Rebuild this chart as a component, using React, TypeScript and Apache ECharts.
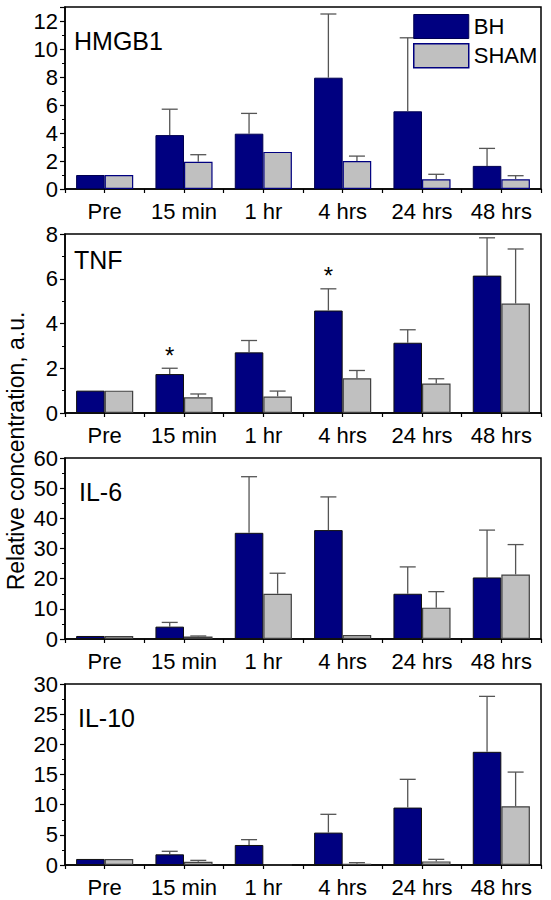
import React, { useEffect, useRef } from 'react';
import * as echarts from 'echarts';

const categories = ['Pre', '15 min', '1 hr', '4 hrs', '24 hrs', '48 hrs'];

// HMGB1
const hmgb1BH = [1.0, 3.85, 3.95, 7.95, 5.55, 1.65];
const hmgb1BHErrTop = [null, 5.7, 5.4, 12.5, 10.8, 2.9];
const hmgb1SHAM = [1.0, 1.95, 2.65, 2.0, 0.7, 0.7];
const hmgb1SHAMErrTop = [null, 2.45, null, 2.35, 1.05, 0.95];

// TNF
const tnfBH = [1.0, 1.74, 2.71, 4.58, 3.14, 6.14];
const tnfBHErrTop = [null, 2.0, 3.24, 5.55, 3.72, 7.83];
const tnfSHAM = [1.0, 0.7, 0.74, 1.55, 1.32, 4.89];
const tnfSHAMErrTop = [null, 0.85, 0.98, 1.9, 1.53, 7.33];
const tnfStars = [false, true, false, true, false, false];

// IL-6
const il6BH = [1.0, 4.1, 35.2, 36.1, 15.0, 20.4];
const il6BHErrTop = [null, 5.5, 53.8, 47.1, 23.9, 36.1];
const il6SHAM = [1.0, 0.8, 15.0, 1.3, 10.4, 21.4];
const il6SHAMErrTop = [null, 1.0, 21.8, null, 15.7, 31.3];

// IL-10
const il10BH = [1.0, 1.77, 3.32, 5.37, 9.52, 18.76];
const il10BHErrTop = [null, 2.27, 4.2, 8.4, 14.2, 27.95];
const il10SHAM = [1.0, 0.55, 0, 0.22, 0.6, 9.74];
const il10SHAMErrTop = [null, 0.77, null, 0.39, 0.94, 15.4];

const panelNames = ['HMGB1', 'TNF', 'IL-6', 'IL-10'];
const yMax = [13, 8, 60, 30];
const yInterval = [2, 2, 10, 5];
const seriesName = ['BH', 'SHAM'];
const yTitle = 'Relative concentration, a.u.';

const panelData = [
  { bh: hmgb1BH, bhErr: hmgb1BHErrTop, sham: hmgb1SHAM, shamErr: hmgb1SHAMErrTop, stars: [] as boolean[] },
  { bh: tnfBH, bhErr: tnfBHErrTop, sham: tnfSHAM, shamErr: tnfSHAMErrTop, stars: tnfStars },
  { bh: il6BH, bhErr: il6BHErrTop, sham: il6SHAM, shamErr: il6SHAMErrTop, stars: [] as boolean[] },
  { bh: il10BH, bhErr: il10BHErrTop, sham: il10SHAM, shamErr: il10SHAMErrTop, stars: [] as boolean[] },
];

// layout
const gridLeft = 65;
const gridWidth = 476;
const gridTops = [7, 234, 458, 684];
const gridHeights = [182, 179, 181, 181];
const titlePos = [
  [74, 41],
  [74, 260],
  [79, 492],
  [78, 718],
];
const FONT = '"Liberation Sans", Arial, sans-serif';
const GAP_RATIO = 0.28;
const BH_COLOR = '#000080';
const SHAM_COLOR = '#c0c0c0';

export default function App() {
  const ref = useRef<HTMLDivElement>(null);
  useEffect(() => {
    if (!ref.current) return;
    const chart = echarts.init(ref.current, null, { renderer: 'svg' });

    const grids: any[] = [];
    const xAxes: any[] = [];
    const yAxes: any[] = [];
    const series: any[] = [];
    const graphics: any[] = [];

    panelData.forEach((p, i) => {
      grids.push({
        left: gridLeft,
        width: gridWidth,
        top: gridTops[i],
        height: gridHeights[i],
        show: true,
        borderColor: '#000',
        borderWidth: 1.5,
        backgroundColor: 'transparent',
      });
      xAxes.push({
        type: 'category',
        gridIndex: i,
        data: categories,
        axisLine: { show: true, lineStyle: { color: '#000', width: 1.5 } },
        axisTick: { show: true, alignWithLabel: true, length: 4, lineStyle: { color: '#000', width: 1.2 } },
        axisLabel: { fontSize: 22, color: '#000', margin: 11, fontFamily: FONT, interval: 0 },
        splitLine: { show: false },
      });
      xAxes.push({
        type: 'category',
        gridIndex: i,
        position: 'bottom',
        data: categories,
        axisLine: { show: false },
        axisTick: { show: true, alignWithLabel: false, length: 4, lineStyle: { color: '#000', width: 1.2 } },
        axisLabel: { show: false },
        splitLine: { show: false },
      });
      yAxes.push({
        type: 'value',
        gridIndex: i,
        min: 0,
        max: yMax[i],
        interval: yInterval[i],
        axisLine: { show: true, lineStyle: { color: '#000', width: 1.5 } },
        axisTick: { show: true, length: 5, lineStyle: { color: '#000', width: 1.2 } },
        minorTick: { show: true, splitNumber: 2, length: 3, lineStyle: { color: '#000', width: 1 } },
        axisLabel: {
          fontSize: 22,
          color: '#000',
          margin: 7,
          fontFamily: FONT,
          showMaxLabel: yMax[i] % yInterval[i] === 0,
        },
        splitLine: { show: false },
      });

      const shamBorder = i === 0 ? BH_COLOR : '#404040';
      const bhBorder = i === 0 ? '#000050' : '#101010';
      series.push({
        name: seriesName[0],
        type: 'bar',
        xAxisIndex: i * 2,
        yAxisIndex: i,
        data: p.bh,
        barCategoryGap: GAP_RATIO * 100 + '%',
        barGap: '0%',
        itemStyle: { color: BH_COLOR, borderColor: bhBorder, borderWidth: 1 },
        z: 2,
      });
      series.push({
        name: seriesName[1],
        type: 'bar',
        xAxisIndex: i * 2,
        yAxisIndex: i,
        data: p.sham,
        barCategoryGap: GAP_RATIO * 100 + '%',
        barGap: '0%',
        itemStyle: { color: SHAM_COLOR, borderColor: shamBorder, borderWidth: 1.2 },
        z: 2,
      });

      const errData: any[] = [];
      categories.forEach((_, c) => {
        if (p.bhErr[c] != null) errData.push([c, p.bhErr[c], p.bh[c], 0, p.stars[c] ? 1 : 0]);
        if (p.shamErr[c] != null) errData.push([c, p.shamErr[c], p.sham[c], 1, 0]);
      });
      series.push({
        type: 'custom',
        xAxisIndex: i * 2,
        yAxisIndex: i,
        data: errData,
        encode: { x: 0, y: 1 },
        z: 3,
        silent: true,
        renderItem: (params: any, api: any) => {
          const cat = api.value(0);
          const top = api.value(1);
          const base = api.value(2);
          const g = api.value(3);
          const star = api.value(4);
          const catW = api.size([1, 0])[0];
          const bw = (catW * (1 - GAP_RATIO)) / 2;
          const cx = api.coord([cat, 0])[0] + (g === 0 ? -bw / 2 : bw / 2);
          const yTop = api.coord([cat, top])[1];
          const yBase = api.coord([cat, base])[1];
          const st = { stroke: '#555', lineWidth: 1.3 };
          const children: any[] = [
            { type: 'line', shape: { x1: cx, y1: yBase, x2: cx, y2: yTop }, style: st },
            { type: 'line', shape: { x1: cx - 8, y1: yTop, x2: cx + 8, y2: yTop }, style: st },
          ];
          if (star) {
            children.push({
              type: 'text',
              x: cx,
              y: yTop - 13,
              style: {
                text: '*',
                fontSize: 24,
                fontFamily: FONT,
                fill: '#000',
                align: 'center',
                verticalAlign: 'middle',
              },
            });
          }
          return { type: 'group', children };
        },
      });

      graphics.push({
        type: 'text',
        x: titlePos[i][0],
        y: titlePos[i][1],
        style: {
          text: panelNames[i],
          fontSize: 25,
          fontFamily: FONT,
          fill: '#000',
          verticalAlign: 'middle',
        },
      });
    });

    graphics.push({
      type: 'text',
      x: 16,
      y: 451,
      rotation: Math.PI / 2,
      style: {
        text: yTitle,
        fontSize: 23,
        fontFamily: FONT,
        fill: '#000',
        align: 'center',
        verticalAlign: 'middle',
      },
    });

    chart.setOption({
      animation: false,
      backgroundColor: '#fff',
      textStyle: { fontFamily: FONT },
      grid: grids,
      xAxis: xAxes,
      yAxis: yAxes,
      series,
      graphic: graphics,
      legend: {
        orient: 'vertical',
        left: 413,
        top: 14,
        padding: 0,
        itemWidth: 55,
        itemHeight: 24,
        itemGap: 4,
        icon: 'rect',
        selectedMode: false,
        textStyle: { fontSize: 22, color: '#000', fontFamily: FONT },
        data: [
          { name: 'BH', itemStyle: { color: BH_COLOR, borderColor: '#000050', borderWidth: 1 } },
          { name: 'SHAM', itemStyle: { color: SHAM_COLOR, borderColor: BH_COLOR, borderWidth: 1.5 } },
        ],
      },
    });
    return () => chart.dispose();
  }, []);
  return (
    <div
      ref={ref}
      style={{ position: 'absolute', left: 0, top: 0, width: 551, height: 900 }}
    />
  );
}
